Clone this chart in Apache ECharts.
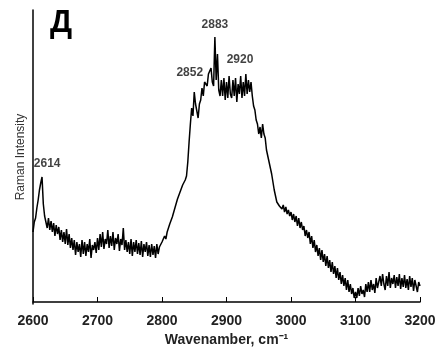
<!DOCTYPE html>
<html><head><meta charset="utf-8">
<script src="https://cdn.jsdelivr.net/npm/echarts@6/dist/echarts.min.js"></script>
<style>html,body{margin:0;padding:0;background:#fff}#c{width:440px;height:353px}</style>
</head><body><div id="c"></div>
<script>
var waveStart = 2600, waveStep = 2;
var intensity = [
70,80,84,94,102,112,119,125,98,86,
86,74,84,72,81,70,79,66,77,68,
75,62,72,60,70,58,73,57,68,54,
64,52,62,47,60,50,58,45,62,48,
60,46,58,50,63,44,57,52,60,49,
64,52,68,55,70,53,63,58,72,54,
66,56,70,52,64,58,68,51,63,57,
74,52,62,50,60,48,63,46,60,50,
62,48,59,47,61,45,58,50,60,46,
57,45,58,47,56,44,58,48,55,54,
60,58,66,63,70,70,78,77,85,86,
94,95,103,104,110,110,117,116,122,126,
140,160,178,194,186,210,198,200,184,198,
202,214,206,220,222,216,228,226,234,220,
216,265,222,248,212,206,222,206,224,202,
220,204,226,208,204,222,206,224,200,218,
208,226,204,220,206,228,208,222,210,220,
206,196,192,182,178,168,175,164,178,168,
164,152,152,140,142,128,126,112,110,100,
102,96,98,93,97,90,95,88,92,86,
90,82,88,80,86,76,84,74,80,72,
76,66,72,64,70,58,66,54,62,50,
57,46,54,42,52,40,48,36,46,34,
42,30,40,28,36,24,34,22,30,18,
27,16,24,12,22,10,18,8,14,4,
10,4,14,6,16,8,12,5,18,10,
20,10,22,12,18,9,24,14,20,26,
16,28,18,12,26,16,30,14,24,18,
27,14,25,16,28,13,24,15,27,14,
23,12,26,15,24,11,22,16,10,20,
16
];
var peakLabels = ['2614','2852','2883','2920'];
var peakLabelX = [2622, 2843, 2882, 2921];
var peakLabelY = [138, 229, 277, 242];
var xTicks = [2600,2700,2800,2900,3000,3100,3200];

var lineData = intensity.map(function(v,i){return [waveStart + i*waveStep, v];});
var labelData = peakLabels.map(function(t,i){return {name:t, value:[peakLabelX[i], peakLabelY[i]]};});

var chart = echarts.init(document.getElementById('c'));
chart.setOption({
  animation:false,
  backgroundColor:'#fff',
  grid:{left:33,right:20,top:10,bottom:49},
  xAxis:{type:'value',min:2600,max:3200,interval:100,
    name:'Wavenamber, cm\u207B\u00B9',nameLocation:'middle',nameGap:29,
    nameTextStyle:{fontFamily:'Liberation Sans',fontWeight:'bold',fontSize:14,color:'#222'},
    axisLine:{lineStyle:{color:'#000',width:1.5}},
    axisTick:{show:true,inside:true,length:5,lineStyle:{color:'#000'}},
    splitLine:{show:false},
    axisLabel:{fontFamily:'Liberation Sans',fontWeight:'bold',fontSize:14,color:'#222',margin:10,
      formatter:function(v){return xTicks.indexOf(v)>=0?String(v):'';}}
  },
  yAxis:{type:'value',min:-2,max:292,
    name:'Raman Intensity',nameLocation:'middle',nameGap:6,
    nameTextStyle:{fontFamily:'Liberation Sans',fontSize:12,color:'#333'},
    axisLine:{show:true,lineStyle:{color:'#000',width:1.5}},
    axisTick:{show:false},axisLabel:{show:false},splitLine:{show:false}
  },
  graphic:[{type:'text',left:50,top:8,style:{text:'Д',fontFamily:'Liberation Sans',fontWeight:'bold',fontSize:31,fill:'#000'}}],
  series:[
    {type:'line',data:lineData,symbol:'none',lineStyle:{color:'#000',width:1.5}},
    {type:'scatter',data:labelData,symbolSize:0,
      label:{show:true,position:'inside',formatter:'{b}',fontFamily:'Liberation Sans',fontWeight:'bold',fontSize:12,color:'#111'}}
  ]
});
</script></body></html>
